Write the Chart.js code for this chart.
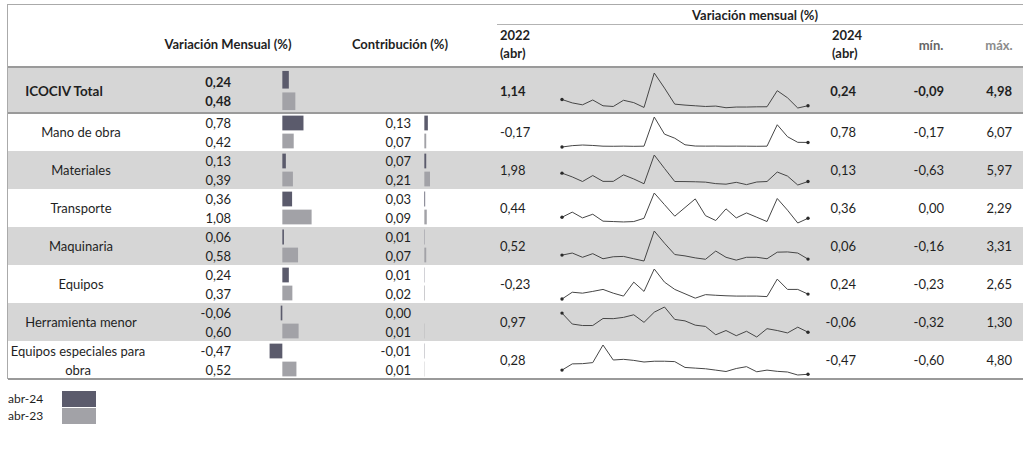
<!DOCTYPE html>
<html lang="es">
<head>
<meta charset="utf-8">
<title>ICOCIV – Variación mensual</title>
<script src="https://cdn.jsdelivr.net/npm/chart.js@4.4.1/dist/chart.umd.min.js"></script>
<style>
  html, body { margin: 0; padding: 0; }
  body {
    width: 1023px; height: 468px; overflow: hidden; position: relative;
    background: #fff; color: #1f1f1f;
    font-family: Lato, "Open Sans", "Noto Sans", sans-serif;
  }
  .t { position: absolute; white-space: nowrap; font-size: 13px; line-height: 16px; }
  .b { font-weight: 700; }
  .h { font-size: 13px; font-weight: 700; }
  .band { position: absolute; background: #d6d6d6; }
  .rule { position: absolute; }
  .swatch { position: absolute; }
  canvas { position: absolute; }
</style>
</head>
<body>
<script>
// ---- data ----------------------------------------------------------------
const categories = [
  'ICOCIV Total', 'Mano de obra', 'Materiales', 'Transporte',
  'Maquinaria', 'Equipos', 'Herramienta menor', 'Equipos especiales para obra'
];
const periods = ['abr-24', 'abr-23'];

// Variación mensual (%) of April of each year
const variacionAbr24 = [0.24, 0.78, 0.13, 0.36, 0.06, 0.24, -0.06, -0.47];
const variacionAbr23 = [0.48, 0.42, 0.39, 1.08, 0.58, 0.37, 0.60, 0.52];

// Contribución (%) – not reported for the total
const contribucionAbr24 = [null, 0.13, 0.07, 0.03, 0.01, 0.01, 0.00, -0.01];
const contribucionAbr23 = [null, 0.07, 0.21, 0.09, 0.07, 0.02, 0.01, 0.01];

// Months shown in the sparklines, abr-2022 .. abr-2024
const months = [
  'abr-22', 'may-22', 'jun-22', 'jul-22', 'ago-22', 'sep-22', 'oct-22', 'nov-22', 'dic-22',
  'ene-23', 'feb-23', 'mar-23', 'abr-23', 'may-23', 'jun-23', 'jul-23', 'ago-23', 'sep-23',
  'oct-23', 'nov-23', 'dic-23', 'ene-24', 'feb-24', 'mar-24', 'abr-24'
];

// Monthly variation (%) series per component
const serieTotal = [1.14, 0.65, 0.37, 1.07, 0.23, 0.13, 1.03, 0.69, -0.01, 4.98, 2.79, 0.47, 0.33,
  0.23, 0.13, 0.19, -0.05, 0.05, 0.05, 0.08, 0.09, 2.42, 1.39, -0.09, 0.24];
const serieManoObra = [-0.17, 0.11, 0.24, 0.15, 0.00, -0.02, 0.01, -0.03, 0.00, 6.07, 2.50, 1.66, 0.29,
  0.03, 0.01, 0.02, 0.00, 0.01, 0.00, -0.02, 0.00, 4.46, 1.97, 0.80, 0.78];
const serieMateriales = [1.98, 1.15, 0.14, 1.45, 0.17, 0.17, 1.60, 0.70, -0.36, 5.97, 3.02, 0.14, 0.12,
  0.08, 0.00, -0.33, -0.45, -0.04, -0.55, 0.03, 0.14, 2.22, 1.33, -0.63, 0.13];
const serieTransporte = [0.44, 0.83, 0.39, 0.67, 0.14, 0.11, 0.08, 0.11, 0.36, 2.29, 1.40, 0.52, 1.18,
  1.84, 0.56, 0.19, 1.08, 0.39, 0.77, 0.44, 0.11, 1.87, 0.98, 0.00, 0.36];
const serieMaquinaria = [0.52, 0.76, 0.27, 0.69, 0.10, 0.33, 0.37, 0.10, -0.16, 3.31, 1.90, 0.59, 0.43,
  0.20, 0.04, 0.99, 0.27, -0.06, 0.27, 0.27, 0.10, 0.86, 0.89, 0.76, 0.06];
const serieEquipos = [-0.23, 0.42, 0.33, 0.50, 0.69, 0.33, 0.05, 1.39, 0.50, 2.65, 1.39, 0.69, 0.27,
  -0.15, 0.19, 0.13, 0.08, 0.05, 0.05, 0.05, 0.00, 1.68, 0.69, 0.69, 0.24];
const serieHerramienta = [0.97, 0.38, 0.30, 0.30, 0.68, 0.67, 0.74, 0.88, 0.47, 1.02, 1.30, 0.63, 0.55,
  0.32, 0.25, -0.20, 0.03, -0.25, -0.01, -0.32, 0.13, 0.03, -0.10, 0.21, -0.06];
const serieEquiposEspeciales = [0.28, 1.40, 1.44, 1.63, 4.80, 2.10, 2.22, 2.03, 1.74, 1.88, 1.88, 1.81, 0.76,
  0.64, 0.52, 0.28, 0.03, 0.57, 0.90, -0.02, 0.28, 0.06, -0.06, -0.60, -0.47];

const series = [serieTotal, serieManoObra, serieMateriales, serieTransporte,
  serieMaquinaria, serieEquipos, serieHerramienta, serieEquiposEspeciales];

// ---- layout & helpers -------------------------------------------------------
const PAGE_W = 1023;
const DARK = '#5b5b6c';
const LIGHT = '#a2a2a7';
const FIRST_TOP = 68, FIRST_H = 45, ROW_H = 38;
const rowTop = i => i === 0 ? FIRST_TOP : FIRST_TOP + FIRST_H + (i - 1) * ROW_H;
const rowH = i => i === 0 ? FIRST_H : ROW_H;
const TABLE_BOTTOM = rowTop(categories.length);
const fmt = v => v.toFixed(2).replace('.', ',');

function el(cls, css, text) {
  const d = document.createElement('div');
  d.className = cls;
  d.style.cssText = css;
  if (text !== undefined) d.textContent = text;
  document.body.appendChild(d);
  return d;
}
// text anchored at x (left / right / center), vertically centred on y
function text(str, x, y, align, cls, extra) {
  let css = `top:${y - 8}px;`;
  if (align === 'right') css += `right:${PAGE_W - x}px;text-align:right;`;
  else if (align === 'center') css += `left:${x - 150}px;width:300px;text-align:center;`;
  else css += `left:${x}px;`;
  return el('t ' + (cls || ''), css + (extra || ''), str);
}
function rect(cls, x, y, w, h, color) {
  return el(cls, `left:${x}px;top:${y}px;width:${w}px;height:${h}px;` + (color ? `background:${color};` : ''));
}
function canvas(x, y, w, h) {
  const c = document.createElement('canvas');
  c.width = w; c.height = h;
  c.style.cssText = `left:${x}px;top:${y}px;width:${w}px;height:${h}px;`;
  document.body.appendChild(c);
  return c;
}

const baseOptions = {
  responsive: false,
  animation: false,
  devicePixelRatio: 1,
  events: [],
  plugins: { legend: { display: false }, tooltip: { enabled: false } }
};

// horizontal two-bar chart (abr-24 / abr-23) with its zero line at zeroX
const BAR_MIN = -0.75, BAR_MAX = 1.5, BAR_W = 61;
function pairBars(zeroX, top, h, a, b) {
  const left = Math.round(zeroX - BAR_W * (-BAR_MIN) / (BAR_MAX - BAR_MIN));
  new Chart(canvas(left, top, BAR_W, h), {
    type: 'bar',
    data: {
      labels: periods,
      datasets: [{
        data: [a, b],
        backgroundColor: [DARK, LIGHT],
        borderWidth: 0,
        barPercentage: 0.82,
        categoryPercentage: 1
      }]
    },
    options: Object.assign({}, baseOptions, {
      indexAxis: 'y',
      layout: { padding: 0 },
      scales: {
        x: { display: false, min: BAR_MIN, max: BAR_MAX },
        y: { display: false }
      }
    })
  });
}

function sparkline(top, h, serie, pad) {
  const last = serie.length - 1;
  new Chart(canvas(558, top, 254, h), {
    type: 'line',
    data: {
      labels: months,
      datasets: [{
        data: serie,
        borderColor: '#464646',
        borderWidth: 1,
        tension: 0,
        clip: false,
        pointRadius: ctx => (ctx.dataIndex === 0 || ctx.dataIndex === last) ? 1.7 : 0,
        pointBackgroundColor: '#2a2a2a',
        pointBorderWidth: 0
      }]
    },
    options: Object.assign({}, baseOptions, {
      layout: { padding: { left: 4, right: 4, top: pad, bottom: pad } },
      scales: {
        x: { display: false },
        y: { display: false, min: Math.min(...serie), max: Math.max(...serie) }
      }
    })
  });
}

// ---- table frame --------------------------------------------------------
[0, 2, 4, 6].forEach(i => rect('band', 8, rowTop(i), PAGE_W - 8, rowH(i)));
rect('rule', 7, 4, PAGE_W - 7, 1, '#aaaaaa');
rect('rule', 7, 4, 1, TABLE_BOTTOM - 4, '#aaaaaa');
rect('rule', 497, 24, PAGE_W - 497, 1, '#b3b3b3');
rect('rule', 8, 66, PAGE_W - 8, 2, '#9a9a9a');
rect('rule', 8, rowTop(1) - 1, PAGE_W - 8, 2, '#9a9a9a');
rect('rule', 8, TABLE_BOTTOM - 1, PAGE_W - 8, 2, '#9a9a9a');

// ---- headers --------------------------------------------------------------
text('Variación Mensual (%)', 228, 44, 'center', 'h');
text('Contribución (%)', 400, 44, 'center', 'h');
text('Variación mensual (%)', 755, 15, 'center', 'h');
text('2022', 500, 35, 'left', 'h');
text('(abr)', 500, 53, 'left', 'h');
text('2024', 832, 35, 'left', 'h');
text('(abr)', 832, 53, 'left', 'h');
text('mín.', 931, 45, 'center', 'h', 'color:#666;');
text('máx.', 999, 45, 'center', 'h', 'color:#8c8c8c;');

// ---- rows -------------------------------------------------------------------
categories.forEach((name, i) => {
  const top = rowTop(i), h = rowH(i), c = top + h / 2;
  const bold = i === 0 ? 'b' : '';
  const serie = series[i];

  if (name === 'Equipos especiales para obra') {
    text('Equipos especiales para', 78, c - 9, 'center');
    text('obra', 78, c + 10, 'center');
  } else if (i === 0) {
    text(name, 64, c, 'center', bold, 'font-size:13.5px;');
  } else {
    text(name, 81, c, 'center');
  }

  text(fmt(variacionAbr24[i]), 231, c - 9, 'right', bold);
  text(fmt(variacionAbr23[i]), 231, c + 10, 'right', bold);
  pairBars(282, top + 1, h - 2, variacionAbr24[i], variacionAbr23[i]);

  if (contribucionAbr24[i] !== null) {
    text(fmt(contribucionAbr24[i]), 411, c - 9, 'right');
    text(fmt(contribucionAbr23[i]), 411, c + 10, 'right');
    pairBars(424, top + 1, h - 2, contribucionAbr24[i], contribucionAbr23[i]);
  }

  text(fmt(serie[0]), 500, c, 'left', bold);
  sparkline(top, h, serie, i === 0 ? 5 : 3);
  text(fmt(serie[serie.length - 1]), 856, c, 'right', bold);
  text(fmt(Math.min(...serie)), 944, c, 'right', bold);
  text(fmt(Math.max(...serie)), 1012, c, 'right', bold);
});

// ---- legend -----------------------------------------------------------------
text('abr-24', 8, TABLE_BOTTOM + 20, 'left', '', 'font-size:12px;');
rect('swatch', 62, TABLE_BOTTOM + 12, 34, 16, DARK);
text('abr-23', 8, TABLE_BOTTOM + 37, 'left', '', 'font-size:12px;');
rect('swatch', 62, TABLE_BOTTOM + 29, 34, 16, LIGHT);
</script>
</body>
</html>
